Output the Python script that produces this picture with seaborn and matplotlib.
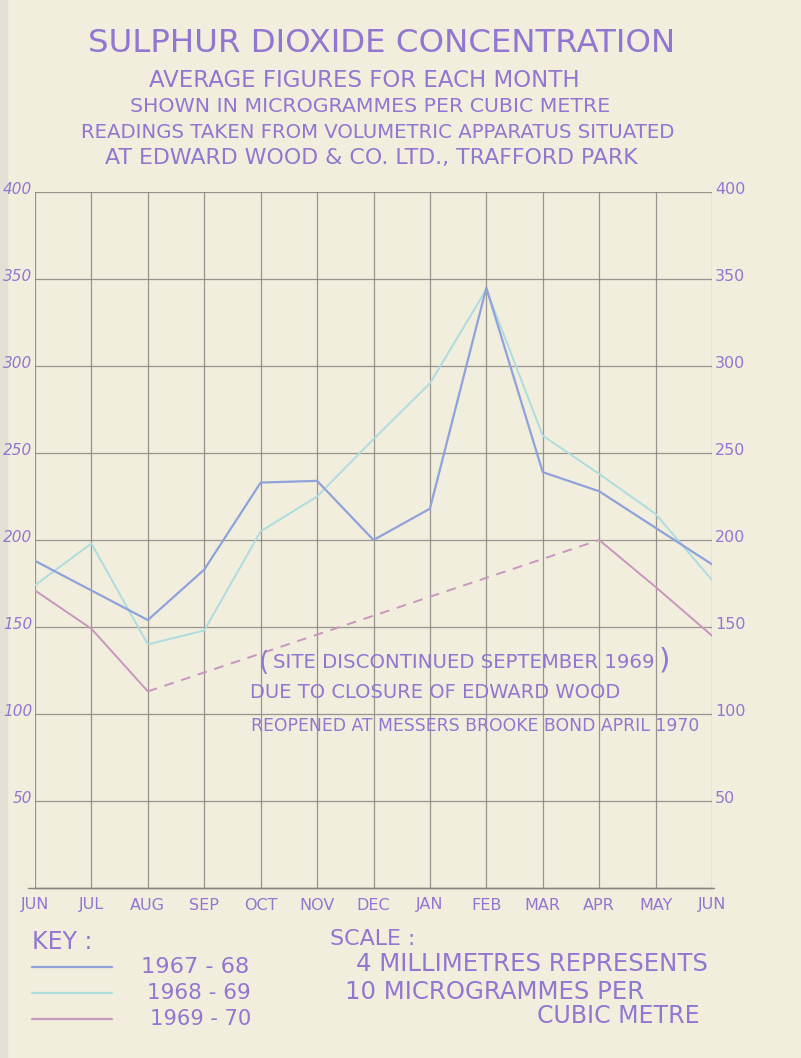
import numpy as np
import pandas as pd
import matplotlib
matplotlib.use("Agg")
import matplotlib.pyplot as plt
import matplotlib.transforms as mtrans
import seaborn as sns

# ---------------- data ----------------
months = ["JUN", "JUL", "AUG", "SEP", "OCT", "NOV", "DEC",
          "JAN", "FEB", "MAR", "APR", "MAY", "JUN"]
so2_1967_68 = [188, 171, 154, 183, 233, 234, 200, 218, 345, 239, 228, 207, 186]
so2_1968_69 = [174, 198, 140, 148, 205, 225, 258, 290, 344, 260, 238, 215, 177]
so2_1969_70 = [171, 149, 113, np.nan, np.nan, np.nan, np.nan, np.nan, np.nan,
               np.nan, 200, 173, 145]
series_names = ["1967 - 68", "1968 - 69", "1969 - 70"]
y_ticks = [50, 100, 150, 200, 250, 300, 350, 400]

title_lines = [
    "SULPHUR DIOXIDE CONCENTRATION",
    "AVERAGE FIGURES FOR EACH MONTH",
    "SHOWN IN MICROGRAMMES PER CUBIC METRE",
    "READINGS TAKEN FROM VOLUMETRIC APPARATUS SITUATED",
    "AT EDWARD WOOD & CO. LTD., TRAFFORD PARK",
]
note_lines = [
    "SITE DISCONTINUED SEPTEMBER 1969",
    "DUE TO CLOSURE OF EDWARD WOOD",
    "REOPENED AT MESSERS BROOKE BOND APRIL 1970",
]
scale_lines = ["SCALE :", "4 MILLIMETRES REPRESENTS", "10 MICROGRAMMES PER", "CUBIC METRE"]

# ---------------- style ----------------
BG = "#F1EEDD"
INK = "#9077D0"
GRID = "#8a8480"
C_DARK = "#8FA2DA"
C_LIGHT = "#AEDCDF"
C_PINK = "#C996BE"

sns.set_theme(style="white")
plt.rcParams["font.family"] = ["DejaVu Sans"]

W, H = 801, 1058
fig = plt.figure(figsize=(W / 100, H / 100), dpi=100, facecolor=BG)

def fx(px):
    return px / W

def fy(py):
    return 1 - py / H

# scanned page edge shading
fig.add_artist(plt.Rectangle((0, 0), fx(7), 1, transform=fig.transFigure,
                             color="#E3E1D5", zorder=0))

# axes: x from 35 to 712 px, y from 192 (400) to 888 (0)
ax = fig.add_axes([fx(35), fy(888), fx(712) - fx(35), fy(192) - fy(888)])
ax.set_facecolor(BG)

xpos = np.arange(len(months))
df = pd.DataFrame({
    "x": np.tile(xpos, 3),
    "value": so2_1967_68 + so2_1968_69 + list(so2_1969_70),
    "year": np.repeat(series_names, len(months)),
})

sns.lineplot(data=df[df.year == series_names[0]], x="x", y="value",
             color=C_DARK, lw=1.6, ax=ax, zorder=4)
sns.lineplot(data=df[df.year == series_names[1]], x="x", y="value",
             color=C_LIGHT, lw=1.4, ax=ax, zorder=3)
# 1969-70: solid where measured, dashed across the closure gap
pink = df[df.year == series_names[2]].reset_index(drop=True)
first = pink.iloc[:3]
last = pink.iloc[10:]
gap = pink.iloc[[2, 10]]
sns.lineplot(data=first, x="x", y="value", color=C_PINK, lw=1.4, ax=ax, zorder=3)
sns.lineplot(data=last, x="x", y="value", color=C_PINK, lw=1.4, ax=ax, zorder=3)
sns.lineplot(data=gap, x="x", y="value", color=C_PINK, lw=1.4, ax=ax, zorder=3,
             linestyle=(0, (5, 4)))

ax.set_xlim(0, 12)
ax.set_ylim(0, 400)
ax.set_xticks(xpos)
ax.set_xticklabels([])
ax.set_yticks(y_ticks)
ax.set_xlabel("")
ax.set_ylabel("")
for s in ["left", "right", "top"]:
    ax.spines[s].set_visible(False)
ax.spines["bottom"].set_color(GRID)
ax.spines["bottom"].set_linewidth(1.0)
ax.tick_params(axis="x", length=5, width=0.9, color=GRID, direction="out", pad=2)
ax.tick_params(axis="y", length=0, labelleft=True, labelright=True,
               labelsize=11, labelcolor=INK, pad=2)
# grid
for xv in xpos:
    ax.axvline(xv, color=GRID, lw=0.9, alpha=0.85, zorder=1)
for yv in y_ticks:
    ax.axhline(yv, color=GRID, lw=0.9, alpha=0.85, zorder=1)
ax.axhline(0, xmin=-0.01, xmax=1.003, color=GRID, lw=1.0, clip_on=False, zorder=1)

off = mtrans.ScaledTranslation(0, 4 / 100, fig.dpi_scale_trans)
for t in ax.yaxis.get_major_ticks():
    t.label1.set_fontstyle("italic")
    t.label1.set_fontsize(11)
    t.label2.set_fontstyle("normal")
    t.label2.set_fontsize(11.5)
    t.label2.set_transform(t.label2.get_transform() + off)
    t.label1.set_transform(t.label1.get_transform() + off)

# month labels at y = 905 px
mt = mtrans.blended_transform_factory(ax.transData, fig.transFigure)
for xv, m in zip(xpos, months):
    ax.text(xv, fy(905), m, transform=mt, ha="center", va="center",
            color=INK, fontsize=11.5)

fig.canvas.draw()
renderer = fig.canvas.get_renderer()

def put_text(x0, x1, y, s, cap_px, color=INK, align="center", **kw):
    """Compromise between the reference cap height and the reference span."""
    fs_h = cap_px / 0.729 * 0.72
    xa = {"center": (x0 + x1) / 2, "left": x0, "right": x1}[align]
    t = fig.text(fx(xa), fy(y), s, ha=align, va="center", color=color, fontsize=fs_h, **kw)
    w = t.get_window_extent(renderer).width
    fs_w = fs_h * (x1 - x0) / w
    fs = min(fs_h ** 0.4 * fs_w ** 0.6, fs_h * 1.15)
    t.set_fontsize(fs)
    return t

# titles
put_text(74, 690, 43, title_lines[0], 22)
put_text(89, 639, 80, title_lines[1], 14.5)
put_text(89, 652, 107, title_lines[2], 13)
put_text(41, 715, 133, title_lines[3], 12.5)
put_text(38, 705, 158, title_lines[4], 14)

# notes inside the chart
n0 = put_text(228, 700, 663, note_lines[0], 12.5)
bb = n0.get_window_extent(renderer)
fig.text(bb.x0 - 4, bb.y0 + bb.height / 2, "(", color=INK, fontsize=19, ha="right",
         va="center", transform=None)
fig.text(bb.x1 + 4, bb.y0 + bb.height / 2 + 2, ")", color=INK, fontsize=21, ha="left",
         va="center", transform=None)
put_text(235, 636, 692, note_lines[1], 12.5)
put_text(238, 712, 726, note_lines[2], 11.5)

# key
put_text(32, 102, 942, "KEY :", 15, align="left")
for yk, col, name, (lx0, lx1) in zip([967, 993, 1019], [C_DARK, C_LIGHT, C_PINK],
                                     series_names, [(140, 250), (148, 250), (151, 250)]):
    fig.add_artist(plt.Line2D([fx(32), fx(112)], [fy(yk), fy(yk)], color=col, lw=1.6,
                              transform=fig.transFigure))
    put_text(lx0, lx1, yk, name, 16)

# scale
put_text(330, 460, 939, scale_lines[0], 14, align="left")
put_text(327, 736, 964, scale_lines[1], 15.5)
put_text(327, 662, 992, scale_lines[2], 15.5)
put_text(521, 715, 1016, scale_lines[3], 15)

fig.savefig("out.png", dpi=100, facecolor=BG)
